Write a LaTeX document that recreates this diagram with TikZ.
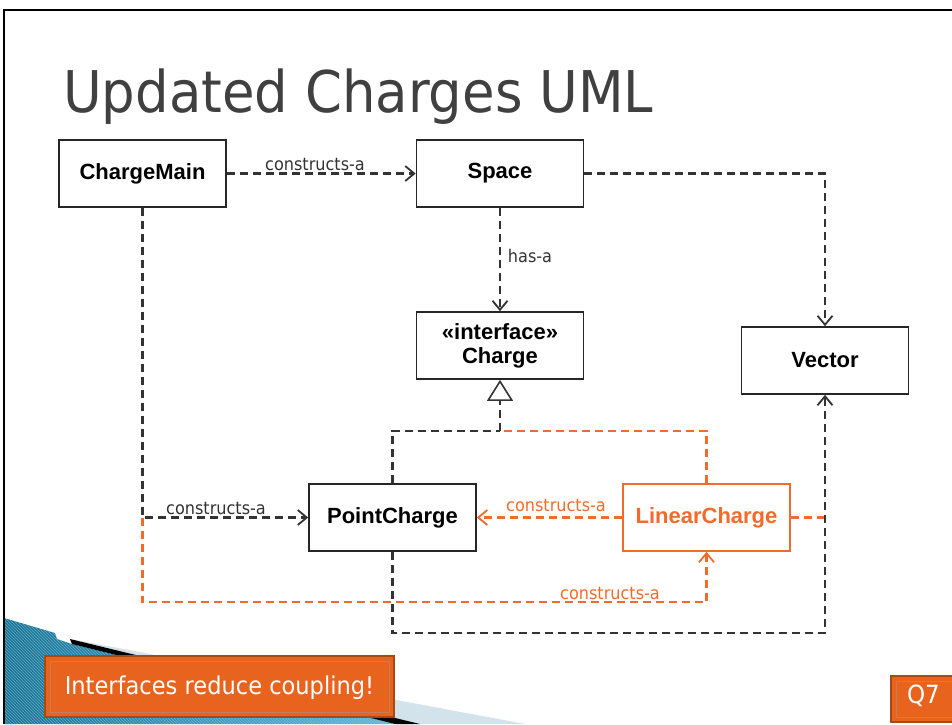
\documentclass[tikz,border=0pt]{standalone}
\usepackage{fontspec}
\setmainfont{Liberation Sans}
\newfontfamily\lblfont[FakeStretch=0.92]{DejaVu Sans}
\usetikzlibrary{arrows.meta,patterns}
\definecolor{dk}{HTML}{333333}
\definecolor{og}{HTML}{F26B2A}
\definecolor{calfill}{HTML}{E8641E}
\definecolor{calborder}{HTML}{A84812}
\definecolor{titlegray}{HTML}{404040}
\definecolor{tealdark}{HTML}{1A7596}
\definecolor{teallight}{HTML}{62B8D6}
\definecolor{paleblue}{HTML}{D3E3EC}
\tikzset{
  umlbox/.style={draw=black!85, line width=1.7pt, fill=white, minimum width=167pt, minimum height=67pt,
    inner sep=0pt, align=center, font=\fontsize{22}{24}\selectfont\bfseries},
  dline/.style={draw=dk, line width=2.1pt, dash pattern=on 8pt off 5pt},
  oline/.style={draw=og, line width=2.1pt, dash pattern=on 8pt off 5pt},
  oarr/.style={-{Straight Barb[length=9pt,width=15pt,line width=1.8pt]}},
  lbl/.style={inner sep=0pt, anchor=base, font=\lblfont\fontsize{17.5}{20}\selectfont},
  callout/.style={fill=calfill, draw=calborder, line width=2pt}
}
\begin{document}
\begin{tikzpicture}[x=1pt,y=-1pt]
\useasboundingbox (0,0) rectangle (952,724);
\fill[white] (0,0) rectangle (952,724);
% frame
\draw[line width=2.5pt, black] (952,10) -- (4,10) -- (4,724);
% title
\node[anchor=base west, inner sep=0pt, text=titlegray, font=\lblfont\fontsize{57.5}{60}\selectfont] (title) at (63,112) {Updated Charges UML};

% boxes
\node[umlbox] (cm) at (142.5,173.5) {ChargeMain};
\node[umlbox] (sp) at (500,173.5) {Space};
\node[umlbox] (ch) at (500,345.5) {«interface»\\Charge};
\node[umlbox] (vec) at (825,360.5) {Vector};
\node[umlbox] (pc) at (392.5,517.5) {PointCharge};
\node[umlbox, draw=og, text=og] (lc) at (706.5,517.5) {LinearCharge};

\coordinate (hub) at (500,431);
\coordinate (cmturn) at (142.5,517.5);
\coordinate (obot) at (142.5,602);
\coordinate (dbot) at (392.5,633);
\coordinate (lcright) at (825,517.5);

% top connectors
\draw[dline, oarr] (cm.east) -- (sp.west);
\draw[dline, oarr] (sp.south) -- (ch.north);
\draw[dline, oarr] (sp.east) -| (vec.north);
% ChargeMain to PointCharge
\draw[dline, oarr] (cm.south) -- (cmturn) -- (pc.west);
% orange: ChargeMain to LinearCharge
\draw[oline, oarr] (cmturn) -- (obot) -| (lc.south);
% orange LinearCharge to PointCharge
\draw[oline, oarr] (lc.west) -- (pc.east);
\draw[oline] (lc.east) -- (lcright);
% PointCharge to Vector
\draw[dline, oarr] (pc.south) -- (dbot) -| (vec.south);
% realization
\draw[oline] (lc.north) |- (hub);
\draw[dline] (pc.north) |- (hub);
\draw[dline, -{Triangle[open, length=21pt, width=26pt, line width=1.6pt]}] (hub) -- (ch.south);

% labels
\node[lbl, text=dk] (l1) at (315,170) {constructs-a};
\node[lbl, text=dk] (l2) at (530,262) {has-a};
\node[lbl, text=dk] (l3) at (216,514) {constructs-a};
\node[lbl, text=og] (l4) at (556,511) {constructs-a};
\node[lbl, text=og] (l5) at (610,599) {constructs-a};

% decoration bottom-left
\path[left color=tealdark, right color=teallight] (4,618) -- (55,633) -- (57,639) -- (72,644) -- (395,724) -- (4,724) -- cycle;
\path[pattern=north west lines, pattern color=teallight!60!white, opacity=0.5] (4,618) -- (55,633) -- (57,639) -- (72,644) -- (395,724) -- (4,724) -- cycle;
\fill[paleblue] (70,639) -- (525,724) -- (420,724) -- cycle;
\fill[black] (70,639) -- (420,724) -- (395,724) -- (72,644) -- cycle;
\draw[line width=2.5pt, black] (4,600) -- (4,724);

% callout
\draw[callout] (45,656) rectangle (394,717);
\draw[draw=calborder!70, line width=0.8pt] (50,661) rectangle (389,712);
\node[anchor=base, inner sep=0pt, text=white, font=\lblfont\fontsize{24.5}{28}\selectfont] (note) at (219.5,694) {Interfaces reduce coupling!};

% Q7
\draw[callout] (891,676) rectangle (960,722);
\draw[draw=calborder!70, line width=0.8pt] (896,681) rectangle (960,717);
\node[anchor=base, inner sep=0pt, text=white, font=\lblfont\fontsize{25}{28}\selectfont] (q7) at (923.5,703) {Q7};
\end{tikzpicture}
\end{document}
